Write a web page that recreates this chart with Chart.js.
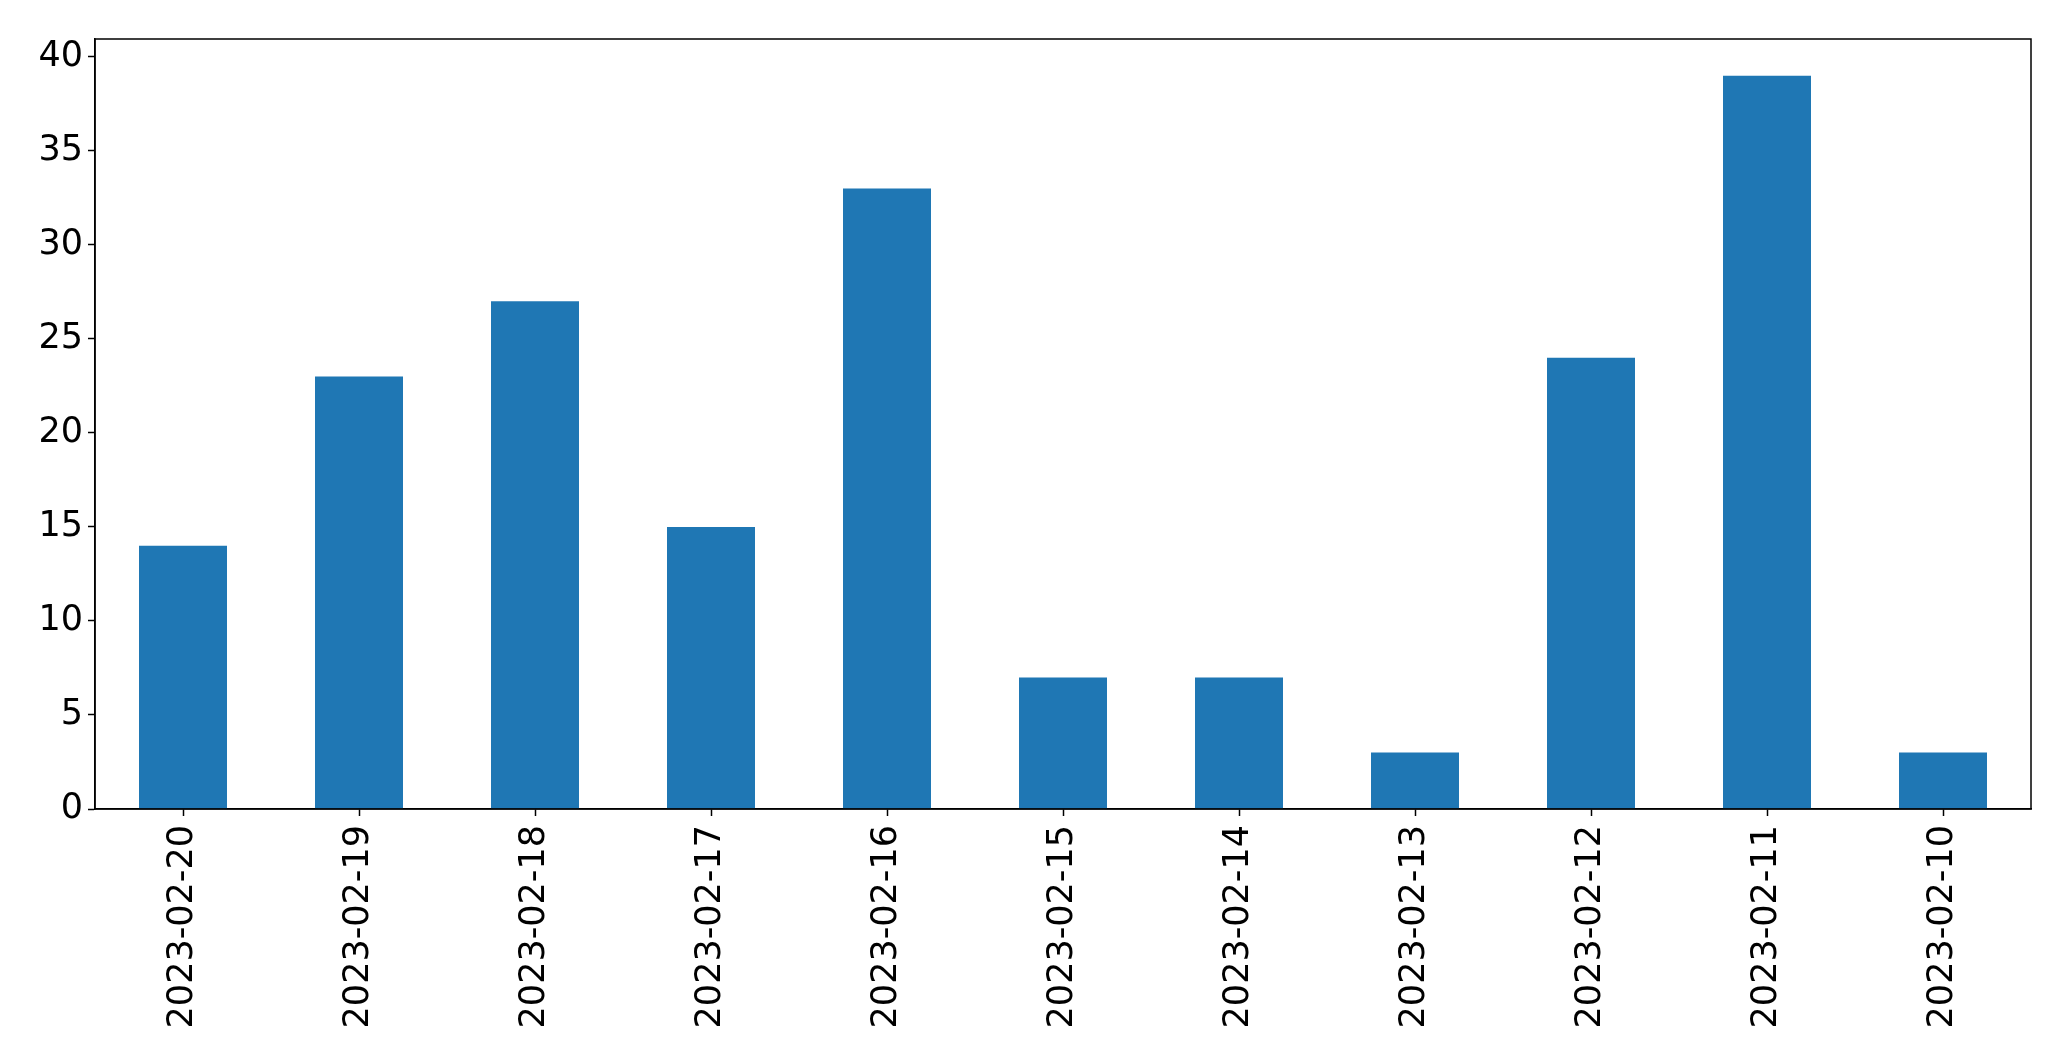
<!DOCTYPE html>
<html>
<head>
<meta charset="utf-8">
<script src="https://cdn.jsdelivr.net/npm/chart.js@4"></script>
<style>
  html, body { margin: 0; padding: 0; background: #fff; }
  #wrap { width: 2071px; height: 1061px; }
</style>
</head>
<body>
<div id="wrap"><canvas id="c" width="2071" height="1061"></canvas></div>
<script>
const categories = ["2023-02-20","2023-02-19","2023-02-18","2023-02-17","2023-02-16","2023-02-15","2023-02-14","2023-02-13","2023-02-12","2023-02-11","2023-02-10"];
const counts = [14, 23, 27, 15, 33, 7, 7, 3, 24, 39, 3];
const yTicks = [0, 5, 10, 15, 20, 25, 30, 35, 40];

const FONT = { family: "'DejaVu Sans', sans-serif", size: 35 };

const frame = {
  id: 'frame',
  afterDraw(chart) {
    const a = chart.chartArea, ctx = chart.ctx;
    ctx.save();
    ctx.strokeStyle = '#000';
    ctx.lineWidth = 1.5;
    ctx.strokeRect(a.left, a.top, a.right - a.left, a.bottom - a.top);
    ctx.restore();
  }
};

new Chart(document.getElementById('c'), {
  type: 'bar',
  data: {
    datasets: [{
      data: counts.map((v, i) => ({ x: i, y: v })),
      backgroundColor: '#1f77b4',
      borderWidth: 0,
      barPercentage: 0.5,
      categoryPercentage: 1.0
    }]
  },
  options: {
    responsive: false,
    animation: false,
    devicePixelRatio: 1,
    layout: { padding: { left: 0, top: 39, right: 40, bottom: 0 } },
    plugins: { legend: { display: false }, tooltip: { enabled: false } },
    scales: {
      x: {
        type: 'linear',
        offset: false,
        min: -0.5,
        max: categories.length - 0.5,
        afterBuildTicks(scale) { scale.ticks = categories.map((_, i) => ({ value: i })); },
        afterFit(scale) { scale.height = 1061 - 809; },
        ticks: {
          autoSkip: false,
          maxRotation: 90, minRotation: 90,
          color: '#000',
          font: FONT,
          padding: 9,
          callback: (v) => categories[v]
        },
        grid: { display: true, offset: false, drawOnChartArea: false, drawTicks: true, tickLength: 7, tickWidth: 1.5, color: '#000' },
        border: { display: true, color: '#000', width: 1.5 }
      },
      y: {
        min: 0,
        max: 40.95,
        afterBuildTicks(scale) { scale.ticks = yTicks.map(v => ({ value: v })); },
        afterFit(scale) { scale.width = 95; },
        ticks: { color: '#000', font: FONT, padding: 5 },
        grid: { display: true, drawOnChartArea: false, drawTicks: true, tickLength: 7, tickWidth: 1.5, color: '#000' },
        border: { display: true, color: '#000', width: 1.5 }
      }
    }
  },
  plugins: [frame]
});
</script>
</body>
</html>
